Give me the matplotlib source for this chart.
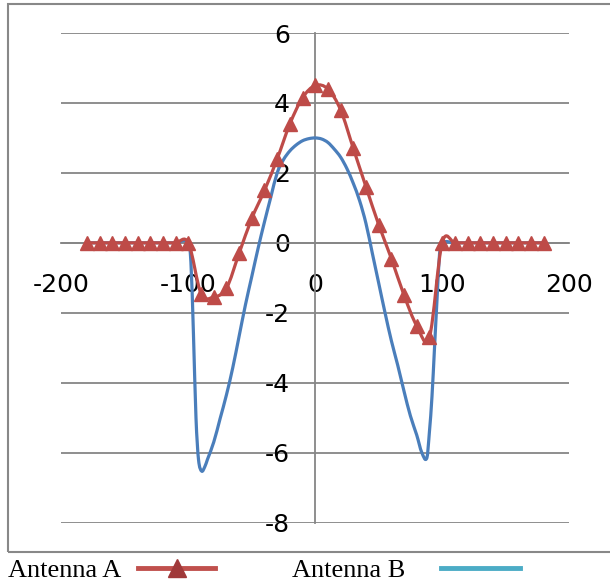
import numpy as np
import matplotlib
matplotlib.use('Agg')
import matplotlib.pyplot as plt
from matplotlib.path import Path
from matplotlib.patches import PathPatch, Rectangle
from matplotlib.lines import Line2D

# Antenna A (red, triangles) - 10 degree steps
angles_a = list(range(-180, 190, 10))
antenna_a = [0, 0, 0, 0, 0, 0, 0, 0, 0,
             -1.45, -1.55, -1.3, -0.3, 0.7, 1.5, 2.4, 3.4, 4.15,
             4.5,
             4.4, 3.8, 2.7, 1.6, 0.52, -0.45, -1.5, -2.37, -2.7,
             0, 0, 0, 0, 0, 0, 0, 0, 0]

# Antenna B (blue line)
angles_b = [-180, -170, -160, -150, -140, -130, -120, -110, -100,
            -98, -96, -94, -92, -89.5, -87, -85, -80, -75, -70, -65, -60,
            -55, -50, -45, -40, -35, -30, -25, -20, -15, -10, -5,
            0,
            5, 10, 15, 20, 25, 30, 35, 40, 45, 50, 55, 60, 65, 70, 75,
            80, 84, 88, 90, 92, 94, 96, 98, 100,
            110, 120, 130, 140, 150, 160, 170, 180]
antenna_b = [0, 0, 0, 0, 0, 0, 0, 0, 0,
             -0.55, -2.6, -5.0, -6.2, -6.53, -6.4, -6.2, -5.7, -5.03, -4.35, -3.57, -2.67,
             -1.77, -0.96, -0.15, 0.6, 1.31, 2.0, 2.38, 2.63, 2.8, 2.92, 2.98,
             3.0,
             2.97, 2.87, 2.68, 2.45, 2.12, 1.7, 1.2, 0.55, -0.3, -1.15, -2.0, -2.8, -3.5, -4.25, -4.95,
             -5.5, -6.0, -6.15, -5.4, -4.4, -3.0, -1.6, -0.3, 0,
             0, 0, 0, 0, 0, 0, 0, 0]

x_ticks = [-200, -100, 0, 100, 200]
y_ticks = [-8, -6, -4, -2, 0, 2, 4, 6]
labels = ['Antenna A', 'Antenna B']

RED = '#BE4B48'
BLUE = '#4A7EBB'


def smooth_path(xs, ys):
    # Excel-like smoothed line: cubic Hermite with centred tangents, as Bezier
    x = np.asarray(xs, dtype=float)
    y = np.asarray(ys, dtype=float)
    n = len(x)
    slope = np.zeros(n)
    for i in range(n):
        a = max(i - 1, 0)
        b = min(i + 1, n - 1)
        slope[i] = (y[b] - y[a]) / (x[b] - x[a])
    verts = [(x[0], y[0])]
    codes = [Path.MOVETO]
    for i in range(n - 1):
        h = (x[i + 1] - x[i]) / 3.0
        verts += [(x[i] + h, y[i] + slope[i] * h),
                  (x[i + 1] - h, y[i + 1] - slope[i + 1] * h),
                  (x[i + 1], y[i + 1])]
        codes += [Path.CURVE4] * 3
    return Path(verts, codes)


fig = plt.figure(figsize=(6.1, 5.82), dpi=100)
ax = fig.add_axes([0.1008, 0.1022, 0.832, 0.841])

ax.add_patch(PathPatch(smooth_path(angles_b, antenna_b), fill=False,
                       edgecolor=BLUE, lw=2.3, zorder=3, capstyle='round',
                       joinstyle='round'))
ax.add_patch(PathPatch(smooth_path(angles_a, antenna_a), fill=False,
                       edgecolor=RED, lw=2.3, zorder=4, capstyle='round',
                       joinstyle='round'))
ax.plot(angles_a, antenna_a, linestyle='none', marker='^', markersize=10,
        color=RED, markeredgecolor=RED, zorder=5)

ax.set_xlim(-200, 200)
ax.set_ylim(-8, 6)
ax.set_xticks(x_ticks)
ax.set_yticks(y_ticks)
ax.set_xticklabels([str(v) for v in x_ticks])
ax.set_yticklabels([str(v) for v in y_ticks])

ax.spines['left'].set_position(('data', 0))
ax.spines['bottom'].set_position(('data', 0))
ax.spines['top'].set_visible(False)
ax.spines['right'].set_visible(False)
for s in ['left', 'bottom']:
    ax.spines[s].set_color('#868686')
    ax.spines[s].set_linewidth(1.3)
ax.spines['bottom'].set_zorder(1)

ax.yaxis.grid(True, color='#868686', linewidth=1.3, zorder=0)
ax.set_axisbelow(True)
ax.tick_params(axis='both', length=0, labelsize=18, labelcolor='black')
ax.tick_params(axis='y', pad=18)
ax.tick_params(axis='x', pad=22)

# outer chart border
fig.patches.append(Rectangle((8 / 610, 1 - 552 / 582), 1.2, (552 - 4) / 582,
                             transform=fig.transFigure, fill=False,
                             edgecolor='#888888', linewidth=1.5))

# legend below the plot, text before the key
legend_font = {'family': 'Liberation Serif', 'size': 19}
handle_a = Line2D([], [], color='#C0504D', lw=3.5, marker='^', markersize=13,
                  markerfacecolor='#A0393A', markeredgecolor='#A0393A')
handle_b = Line2D([], [], color='#4BACC6', lw=3.5)
leg_a = fig.legend([handle_a], [labels[0]], loc='center left',
                   bbox_to_anchor=(8 / 610, 0.02), frameon=False,
                   markerfirst=False, handlelength=2.9, handletextpad=0.65,
                   borderpad=0, borderaxespad=0, prop=legend_font)
leg_b = fig.legend([handle_b], [labels[1]], loc='center left',
                   bbox_to_anchor=(292 / 610, 0.02), frameon=False,
                   markerfirst=False, handlelength=3.0, handletextpad=1.35,
                   borderpad=0, borderaxespad=0, prop=legend_font)

plt.savefig('out.png', dpi=100)
